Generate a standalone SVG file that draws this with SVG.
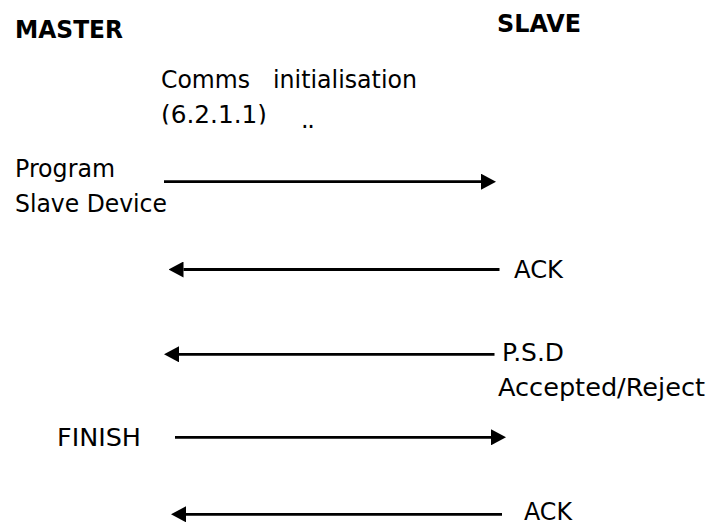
<svg xmlns="http://www.w3.org/2000/svg" width="709" height="526" viewBox="0 0 709 526">
  <style>
    .t { font-family: "DejaVu Sans", Verdana, sans-serif; font-size: 24px; fill: #000; }
    .b { font-weight: bold; }
    .c { fill: none; stroke: #000; stroke-width: 2.8; }
  </style>
  <defs>
    <marker id="ah" viewBox="0 0 15 16" refX="0" refY="8" markerWidth="15" markerHeight="16" markerUnits="userSpaceOnUse" orient="auto">
      <path d="M0,0 L15,8 L0,16 z" fill="#000"/>
    </marker>
    <clipPath id="clip2">
      <rect x="150" y="95" width="130" height="29.5"/>
    </clipPath>
  </defs>
  <rect width="709" height="526" fill="#fff"/>

  <g id="master">
    <text class="t b" x="15" y="38" textLength="108" lengthAdjust="spacingAndGlyphs">MASTER</text>
  </g>
  <g id="slave">
    <text class="t b" x="497" y="32" textLength="84" lengthAdjust="spacingAndGlyphs">SLAVE</text>
  </g>

  <g id="comms-init">
    <text class="t" x="161" y="88" textLength="89" lengthAdjust="spacingAndGlyphs">Comms</text>
    <text class="t" x="273" y="88" textLength="144" lengthAdjust="spacingAndGlyphs">initialisation</text>
    <g clip-path="url(#clip2)">
      <text class="t" x="161" y="122.5" textLength="106" lengthAdjust="spacingAndGlyphs">(6.2.1.1)</text>
    </g>
    <text class="t" x="301" y="127.5" textLength="14" lengthAdjust="spacing">..</text>
  </g>

  <g id="program">
    <text class="t" x="15" y="177" textLength="100" lengthAdjust="spacingAndGlyphs">Program</text>
    <text class="t" x="15" y="212" textLength="152" lengthAdjust="spacingAndGlyphs">Slave Device</text>
  </g>

  <g id="ack1">
    <text class="t" x="514" y="278" textLength="49" lengthAdjust="spacingAndGlyphs">ACK</text>
  </g>

  <g id="psd">
    <text class="t" x="502" y="361" textLength="62" lengthAdjust="spacingAndGlyphs">P.S.D</text>
    <text class="t" x="498" y="396" textLength="207" lengthAdjust="spacingAndGlyphs">Accepted/Reject</text>
  </g>

  <g id="finish">
    <text class="t" x="57" y="446" textLength="84" lengthAdjust="spacingAndGlyphs">FINISH</text>
  </g>

  <g id="ack2">
    <text class="t" x="524" y="520" textLength="48" lengthAdjust="spacingAndGlyphs">ACK</text>
  </g>

  <g id="connectors">
    <path class="c" d="M164,181.7 H481" marker-end="url(#ah)"/>
    <path class="c" d="M499.5,269.5 H183.5" marker-end="url(#ah)"/>
    <path class="c" d="M494.5,354.3 H179" marker-end="url(#ah)"/>
    <path class="c" d="M175,437.3 H491" marker-end="url(#ah)"/>
    <path class="c" d="M502,514.3 H186" marker-end="url(#ah)"/>
  </g>
</svg>
